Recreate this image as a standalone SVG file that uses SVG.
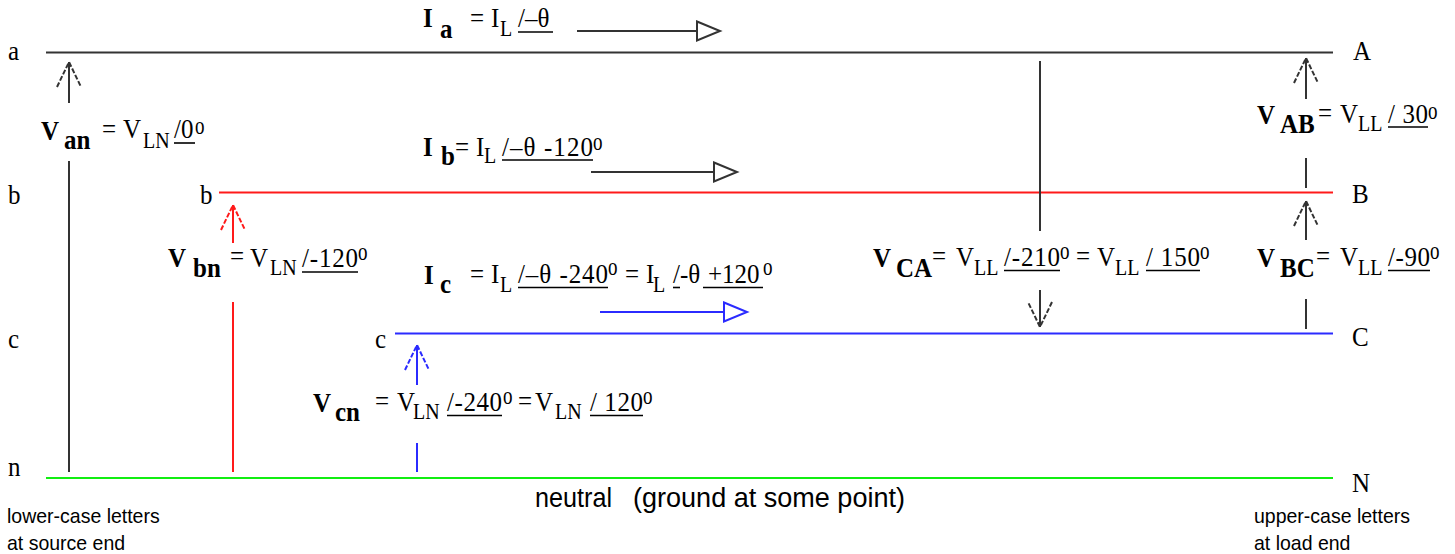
<svg xmlns="http://www.w3.org/2000/svg" width="1455" height="554" viewBox="0 0 1455 554">
<style>
text{font-family:"Liberation Serif","Times New Roman",serif;fill:#000;font-size:25px;transform-box:fill-box;transform-origin:0 80.5%;transform:scaleY(1.13)}
.bd{font-size:25px;font-weight:bold}
.sub{font-size:20px}
.sup{font-size:19px;transform:scaleY(1.3)}
.ang{font-size:25px}
.lbl{font-size:25px}
.sans{font-family:"Liberation Sans",Arial,sans-serif;transform:scaleY(1.08)}
.note{font-size:19.5px}
.big{font-size:26px}
.ul{stroke:#000;stroke-width:1.6}
.k{stroke:#333;stroke-width:2;fill:none}
.r{stroke:#ff1a1a;stroke-width:2;fill:none}
.bl{stroke:#2b2bff;stroke-width:2;fill:none}
.g{stroke:#11ee11;stroke-width:2.2;fill:none}
</style>
<defs>
<marker id="vk" viewBox="-27 -14 29 28" refX="0" refY="0" markerWidth="29" markerHeight="28" markerUnits="userSpaceOnUse" orient="auto" overflow="visible">
<path d="M-25,-12 L0,0 L-25,12" fill="none" stroke="#333" stroke-width="2" stroke-dasharray="5 2"/>
</marker>
<marker id="vr" viewBox="-27 -14 29 28" refX="0" refY="0" markerWidth="29" markerHeight="28" markerUnits="userSpaceOnUse" orient="auto" overflow="visible">
<path d="M-25,-12 L0,0 L-25,12" fill="none" stroke="#ff1a1a" stroke-width="2" stroke-dasharray="5 2"/>
</marker>
<marker id="vb" viewBox="-27 -14 29 28" refX="0" refY="0" markerWidth="29" markerHeight="28" markerUnits="userSpaceOnUse" orient="auto" overflow="visible">
<path d="M-25,-12 L0,0 L-25,12" fill="none" stroke="#2b2bff" stroke-width="2" stroke-dasharray="5 2"/>
</marker>
<marker id="tk" viewBox="-2 -11 27 22" refX="23" refY="0" markerWidth="27" markerHeight="22" markerUnits="userSpaceOnUse" orient="auto" overflow="visible">
<polygon points="0,-9.5 23,0 0,9.5" fill="#fff" stroke="#333" stroke-width="2"/>
</marker>
<marker id="tb" viewBox="-2 -11 27 22" refX="23" refY="0" markerWidth="27" markerHeight="22" markerUnits="userSpaceOnUse" orient="auto" overflow="visible">
<polygon points="0,-9.5 23,0 0,9.5" fill="#fff" stroke="#2b2bff" stroke-width="2"/>
</marker>
</defs>
<rect width="1455" height="554" fill="#fff"/>

<!-- wires (nodes) -->
<g id="wire-a">
<line class="k" x1="46" y1="52.5" x2="1333" y2="52.5"/>
<text class="lbl" x="8" y="60">a</text>
<text class="lbl" x="1353" y="60">A</text>
</g>
<g id="wire-b">
<line class="r" x1="219" y1="192.5" x2="1333" y2="192.5"/>
<text class="lbl" x="8" y="204">b</text>
<text class="lbl" x="200" y="204">b</text>
<text class="lbl" x="1352" y="203">B</text>
</g>
<g id="wire-c">
<line class="bl" x1="395" y1="333.5" x2="1333" y2="333.5"/>
<text class="lbl" x="8" y="348">c</text>
<text class="lbl" x="375" y="348">c</text>
<text class="lbl" x="1352" y="346">C</text>
</g>
<g id="wire-n">
<line class="g" x1="46" y1="478" x2="1333" y2="478"/>
<text class="lbl" x="8" y="476">n</text>
<text class="lbl" x="1352" y="492">N</text>
<text class="sans big" x="535" y="507" textLength="77" lengthAdjust="spacingAndGlyphs">neutral</text>
<text class="sans big" x="633" y="507" textLength="272" lengthAdjust="spacingAndGlyphs">(ground at some point)</text>
</g>

<!-- connectors: voltage and current arrows -->
<g id="connectors">
<line class="k" x1="69" y1="103" x2="69" y2="62" marker-end="url(#vk)"/>
<line class="k" x1="69" y1="161" x2="69" y2="472"/>
<line class="r" x1="233" y1="243" x2="233" y2="205" marker-end="url(#vr)"/>
<line class="r" x1="233" y1="302" x2="233" y2="472"/>
<line class="bl" x1="417" y1="385" x2="417" y2="345" marker-end="url(#vb)"/>
<line class="bl" x1="417" y1="443" x2="417" y2="472"/>
<line class="k" x1="1306" y1="99" x2="1306" y2="58" marker-end="url(#vk)"/>
<line class="k" x1="1306" y1="158" x2="1306" y2="188"/>
<line class="k" x1="1306" y1="240" x2="1306" y2="201" marker-end="url(#vk)"/>
<line class="k" x1="1306" y1="299" x2="1306" y2="329"/>
<line class="k" x1="1040" y1="61" x2="1040" y2="231"/>
<line class="k" x1="1040" y1="290" x2="1040" y2="327" marker-end="url(#vk)"/>
<line class="k" x1="577" y1="31" x2="720" y2="31" marker-end="url(#tk)"/>
<line class="k" x1="591" y1="172" x2="737" y2="172" marker-end="url(#tk)"/>
<line class="bl" x1="600" y1="312" x2="747" y2="312" marker-end="url(#tb)"/>
</g>

<!-- labels -->
<g id="label-Ia">
<text class="bd" x="423" y="27">I</text>
<text class="bd" x="440" y="38">a</text>
<text x="470" y="27">=</text>
<text x="491" y="27">I</text>
<text class="sub" x="500" y="36">L</text>
<text class="ang" x="518" y="27">/–θ</text>
<line class="ul" x1="518" y1="32" x2="553" y2="32"/>
</g>
<g id="label-Ib">
<text class="bd" x="423" y="156">I</text>
<text class="bd" x="441" y="165">b</text>
<text x="455" y="156">=</text>
<text x="476" y="156">I</text>
<text class="sub" x="484" y="163">L</text>
<text class="ang" x="502" y="156" textLength="91">/–θ -120</text>
<line class="ul" x1="502" y1="160" x2="593" y2="160"/>
<text class="sup" x="593" y="150">o</text>
</g>
<g id="label-Ic">
<text class="bd" x="424" y="284">I</text>
<text class="bd" x="440" y="293">c</text>
<text x="470" y="283">=</text>
<text x="491" y="283">I</text>
<text class="sub" x="500" y="292">L</text>
<text class="ang" x="518" y="283" textLength="90">/–θ -240</text>
<line class="ul" x1="518" y1="287.5" x2="608" y2="287.5"/>
<text class="sup" x="608" y="275">o</text>
<text x="625" y="283">=</text>
<text x="646" y="283">I</text>
<text class="sub" x="653" y="292">L</text>
<text class="ang" x="673" y="283">/</text>
<text class="ang" x="680" y="283">-θ</text>
<text class="ang" x="708" y="283">+120</text>
<line class="ul" x1="673" y1="287.5" x2="680" y2="287.5"/>
<line class="ul" x1="703" y1="287.5" x2="763" y2="287.5"/>
<text class="sup" x="763" y="275">o</text>
</g>
<g id="label-Van">
<text class="bd" x="41" y="140">V</text>
<text class="bd" x="64" y="149">an</text>
<text x="102" y="138">=</text>
<text x="123" y="138">V</text>
<text class="sub" x="143" y="148">LN</text>
<text class="ang" x="174" y="138">/0</text>
<line class="ul" x1="174" y1="143" x2="195" y2="143"/>
<text class="sup" x="195" y="134">o</text>
</g>
<g id="label-Vbn">
<text class="bd" x="168" y="267">V</text>
<text class="bd" x="193" y="277">bn</text>
<text x="230" y="265">=</text>
<text x="250" y="267">V</text>
<text class="sub" x="270" y="275">LN</text>
<text class="ang" x="302" y="267" textLength="56">/-120</text>
<line class="ul" x1="302" y1="272" x2="358" y2="272"/>
<text class="sup" x="358" y="260">o</text>
</g>
<g id="label-Vcn">
<text class="bd" x="313" y="412">V</text>
<text class="bd" x="335" y="421">cn</text>
<text x="375" y="410">=</text>
<text x="397" y="411">V</text>
<text class="sub" x="413" y="419">LN</text>
<text class="ang" x="447" y="411" textLength="55">/-240</text>
<line class="ul" x1="447" y1="415.5" x2="502" y2="415.5"/>
<text class="sup" x="503" y="404">o</text>
<text x="518" y="410">=</text>
<text x="535" y="411">V</text>
<text class="sub" x="555" y="419">LN</text>
<text class="ang" x="590" y="411" textLength="53">/ 120</text>
<line class="ul" x1="590" y1="415.5" x2="643" y2="415.5"/>
<text class="sup" x="643" y="404">o</text>
</g>
<g id="label-VAB">
<text class="bd" x="1257" y="124">V</text>
<text class="bd" x="1280" y="133">AB</text>
<text x="1318" y="122">=</text>
<text x="1340" y="123">V</text>
<text class="sub" x="1358" y="131">LL</text>
<text class="ang" x="1388" y="123" textLength="40">/ 30</text>
<line class="ul" x1="1388" y1="127" x2="1428" y2="127"/>
<text class="sup" x="1428" y="119">o</text>
</g>
<g id="label-VBC">
<text class="bd" x="1257" y="267">V</text>
<text class="bd" x="1280" y="277">BC</text>
<text x="1316" y="265">=</text>
<text x="1340" y="266">V</text>
<text class="sub" x="1358" y="275">LL</text>
<text class="ang" x="1388" y="266" textLength="42">/-90</text>
<line class="ul" x1="1388" y1="270.5" x2="1430" y2="270.5"/>
<text class="sup" x="1430" y="259">o</text>
</g>
<g id="label-VCA">
<text class="bd" x="873" y="267">V</text>
<text class="bd" x="896" y="277">CA</text>
<text x="932" y="265">=</text>
<text x="956" y="266">V</text>
<text class="sub" x="974" y="275">LL</text>
<text class="ang" x="1004" y="266" textLength="56">/-210</text>
<line class="ul" x1="1004" y1="270.5" x2="1060" y2="270.5"/>
<text class="sup" x="1060" y="259">o</text>
<text x="1076" y="265">=</text>
<text x="1097" y="266">V</text>
<text class="sub" x="1115" y="275">LL</text>
<text class="ang" x="1146" y="266" textLength="54">/ 150</text>
<line class="ul" x1="1146" y1="270.5" x2="1200" y2="270.5"/>
<text class="sup" x="1200" y="259">o</text>
</g>
<g id="note-source">
<text class="sans note" x="7" y="523">lower-case letters</text>
<text class="sans note" x="7" y="550">at source end</text>
</g>
<g id="note-load">
<text class="sans note" x="1254" y="523">upper-case letters</text>
<text class="sans note" x="1254" y="550">at load end</text>
</g>
</svg>
